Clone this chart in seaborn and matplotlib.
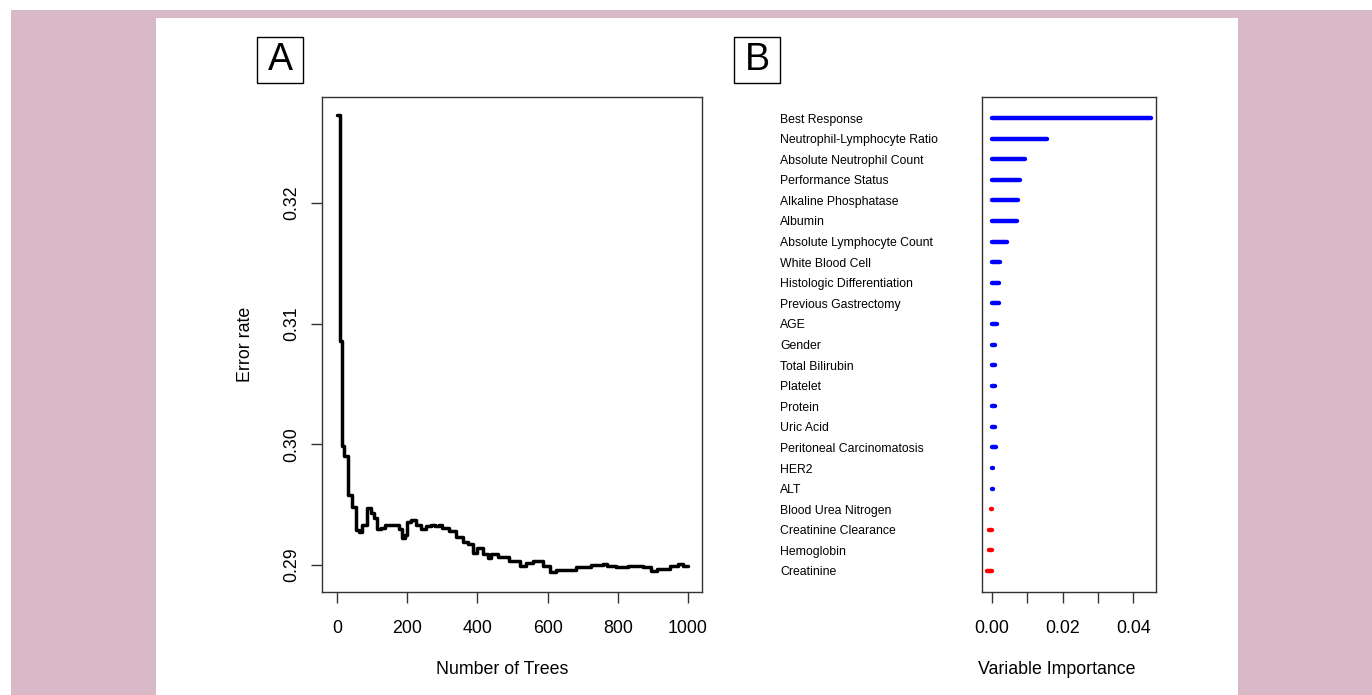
import numpy as np
import pandas as pd
import matplotlib
matplotlib.use("Agg")
import matplotlib.pyplot as plt
from matplotlib.patches import Rectangle
import seaborn as sns

# --- data: error rate (step knots) ---
tree_knots = [1, 8, 13, 20, 32, 42, 53, 63, 72, 85, 96, 106, 114, 126, 137, 160,
              177, 185, 193, 200, 212, 225, 239, 254, 268, 280, 291, 300, 320,
              339, 358, 372, 387, 400, 415, 429, 439, 458, 487, 491, 520, 539,
              558, 587, 606, 625, 663, 682, 725, 758, 768, 796, 829, 872, 896,
              911, 949, 972, 987, 1000]
error_knots = [0.3273, 0.3086, 0.2999, 0.2990, 0.2958, 0.2948, 0.2929, 0.2927,
               0.2933, 0.2947, 0.2943, 0.2939, 0.2930, 0.2931, 0.2933, 0.2933,
               0.2930, 0.2922, 0.2925, 0.2936, 0.2937, 0.2933, 0.2930, 0.2932,
               0.2933, 0.2932, 0.2933, 0.2931, 0.2928, 0.2923, 0.2919, 0.2917,
               0.2910, 0.2914, 0.2909, 0.2906, 0.2909, 0.2907, 0.2907, 0.2903,
               0.2899, 0.2902, 0.2903, 0.2899, 0.2894, 0.2896, 0.2896, 0.2898,
               0.2900, 0.2901, 0.2899, 0.2898, 0.2899, 0.2898, 0.2895, 0.2897,
               0.2899, 0.2901, 0.2899, 0.2899]

# --- data: variable importance ---
variables = ["Best Response", "Neutrophil-Lymphocyte Ratio", "Absolute Neutrophil Count",
             "Performance Status", "Alkaline Phosphatase", "Albumin",
             "Absolute Lymphocyte Count", "White Blood Cell", "Histologic Differentiation",
             "Previous Gastrectomy", "AGE", "Gender", "Total Bilirubin", "Platelet",
             "Protein", "Uric Acid", "Peritoneal Carcinomatosis", "HER2", "ALT",
             "Blood Urea Nitrogen", "Creatinine Clearance", "Hemoglobin", "Creatinine"]
importance = [0.0450, 0.0155, 0.0094, 0.0078, 0.0074, 0.0070, 0.0043, 0.0022, 0.0019,
              0.0019, 0.0014, 0.0009, 0.0009, 0.0009, 0.0009, 0.0009, 0.0010, 0.0002,
              0.0002, -0.0004, -0.0009, -0.0009, -0.0013]

sns.set_theme(style="white")
plt.rcParams['font.family'] = ['Liberation Sans', 'DejaVu Sans']
plt.rcParams.update({"text.color": "black", "axes.labelcolor": "black",
                     "xtick.color": "black", "ytick.color": "black"})

W, H = 1372, 695
fig = plt.figure(figsize=(W / 100, H / 100), dpi=100)
fig.patch.set_facecolor("white")

# background panels
fig.add_artist(Rectangle((11 / W, 0), (W - 11) / W, (H - 10) / H, transform=fig.transFigure,
                         facecolor="#d9b8c8", edgecolor="none", zorder=-10))
fig.add_artist(Rectangle((156 / W, 0), (1238 - 156) / W, (H - 18) / H, transform=fig.transFigure,
                         facecolor="white", edgecolor="none", zorder=-9))


def px_axes(x0, x1, y0, y1):
    return fig.add_axes([x0 / W, 1 - y1 / H, (x1 - x0) / W, (y1 - y0) / H])


def panel_tag(cx, cy, letter):
    fig.add_artist(Rectangle(((cx - 23) / W, 1 - (cy + 23) / H), 46 / W, 46 / H,
                             transform=fig.transFigure, facecolor="white",
                             edgecolor="black", lw=1.0))
    fig.text(cx / W, 1 - cy / H, letter, ha="center", va="center", fontsize=27,
             color="black")


def style_box(ax):
    for s in ax.spines.values():
        s.set_visible(True)
        s.set_color("#333333")
        s.set_linewidth(1.0)
    ax.set_facecolor("white")


# --- Panel A ---
axA = px_axes(322, 702, 97, 592)
err_df = pd.DataFrame({"trees": tree_knots, "error": error_knots})
sns.lineplot(data=err_df, x="trees", y="error", ax=axA, color="black",
             linewidth=2.5, drawstyle="steps-post", estimator=None)
style_box(axA)
axA.set_xlim(-43, 1040)
axA.set_ylim(0.28776, 0.3288)
axA.set_xticks([0, 200, 400, 600, 800, 1000])
axA.set_yticks([0.29, 0.30, 0.31, 0.32])
axA.set_yticklabels(["0.29", "0.30", "0.31", "0.32"], rotation=90, va="center")
axA.tick_params(axis="both", which="major", length=8, width=1, color="#333333",
                labelsize=12.8, left=True, bottom=True)
axA.tick_params(axis="x", pad=12.5)
axA.tick_params(axis="y", pad=7.5)
axA.set_xlabel("Number of Trees", fontsize=12.8)
axA.set_ylabel("Error rate", fontsize=12.8)
axA.xaxis.set_label_coords(0.475, -0.139)
axA.yaxis.set_label_coords(-0.179, 0.5)
panel_tag(280, 60, "A")

# --- Panel B ---
axB = px_axes(982, 1156, 97, 592)
rows = np.arange(len(variables))
colors = ["#0000ff" if v > 0 else "#ff0000" for v in importance]
axB.hlines(rows, 0, importance, colors=colors, linewidth=3.2, capstyle="round")
style_box(axB)
axB.set_xlim(-0.00283, 0.04646)
axB.set_ylim(23.02, -1.02)
axB.set_yticks(rows)
axB.set_yticklabels(variables, ha="left", fontsize=8.8)
axB.tick_params(axis="y", length=0, pad=145.4)
axB.set_xticks([0, 0.01, 0.02, 0.03, 0.04])
axB.set_xticklabels(["0.00", "", "0.02", "", "0.04"])
axB.tick_params(axis="x", length=8, width=1, color="#333333", labelsize=12.8, pad=12.5,
                bottom=True)
axB.set_xlabel("Variable Importance", fontsize=12.8)
axB.xaxis.set_label_coords(0.431, -0.139)
panel_tag(757, 60, "B")

fig.savefig("out.png", dpi=100)
